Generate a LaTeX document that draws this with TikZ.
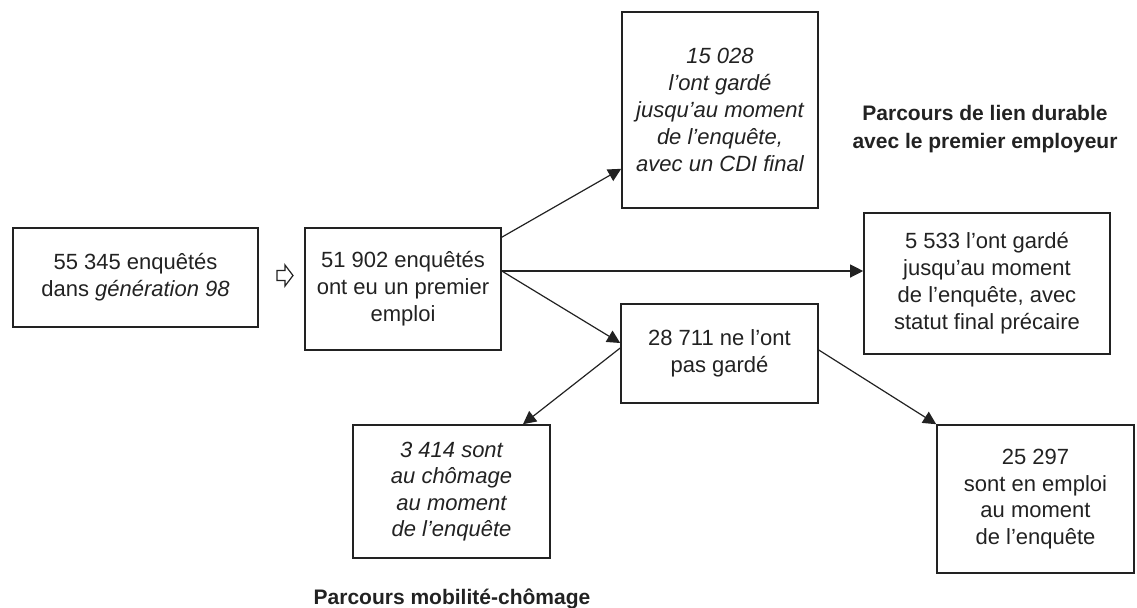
\documentclass[tikz,border=0pt]{standalone}
\usepackage{fontspec}
\setmainfont{Liberation Sans}
\usetikzlibrary{arrows.meta}
\definecolor{ink}{HTML}{222222}
\begin{document}
\begin{tikzpicture}[x=0.5pt,y=-0.5pt,
  box/.style={draw=ink,text=ink,line width=0.8pt,inner sep=0pt,align=center,font=\fontsize{11}{13.5}\selectfont},
  conn/.style={draw=ink,line width=0.6pt,-{Triangle[length=6.5pt,width=6.5pt]}},
  lbl/.style={text=ink,align=center,font=\bfseries\fontsize{10.5}{14}\selectfont}]
\useasboundingbox (0,0) rectangle (1137,607);

\node[box,minimum width=122.5pt,minimum height=49.5pt] (b1) at (135.5,277.5)
  {55 345 enquêtés\\dans \textit{génération 98}};
\node[box,minimum width=98pt,minimum height=61pt] (b2) at (403,289)
  {51 902 enquêtés\\ont eu un premier\\emploi};
\node[box,minimum width=98pt,minimum height=98pt,font=\itshape\fontsize{11}{13.5}\selectfont] (b3) at (720,110)
  {15 028\\l’ont gardé\\jusqu’au moment\\de l’enquête,\\avec un CDI final};
\node[box,minimum width=123pt,minimum height=70.5pt] (b4) at (987,283.5)
  {5 533 l’ont gardé\\jusqu’au moment\\de l’enquête, avec\\statut final précaire};
\node[box,minimum width=98.5pt,minimum height=49.5pt] (b5) at (719.5,353.5)
  {28 711 ne l’ont\\pas gardé};
\node[box,minimum width=98.5pt,minimum height=66.5pt,font=\itshape\fontsize{11}{13.2}\selectfont] (b6) at (451.5,491.5)
  {3 414 sont\\au chômage\\au moment\\de l’enquête};
\node[box,minimum width=98.5pt,minimum height=74pt,font=\fontsize{11}{13.2}\selectfont] (b7) at (1035.5,499)
  {25 297\\sont en emploi\\au moment\\de l’enquête};

\node[lbl] (l1) at (985,129) {Parcours de lien durable\\avec le premier employeur};
\node[lbl,anchor=base] (l2) at (452,604) {Parcours mobilité-chômage};

% hollow block arrow
\draw[ink,line width=0.6pt,line join=miter] (277,270.5)--(285,270.5)--(285,265)--(293,275.5)--(285,286)--(285,280.5)--(277,280.5)--cycle;

\coordinate (o) at ([yshift=9pt]b2.east);
\draw[conn] ([yshift=-5pt]b2.north east) -- ([yshift=20pt]b3.south west);
\draw[conn] (o) -- (o -| b4.west);
\draw[conn] (o) -- ([yshift=5.25pt]b5.west);
\draw[conn] ([yshift=2.75pt]b5.west) -- ([xshift=35.75pt]b6.north);
\draw[conn] ([yshift=1.75pt]b5.east) -- (b7.north west);
\end{tikzpicture}
\end{document}
